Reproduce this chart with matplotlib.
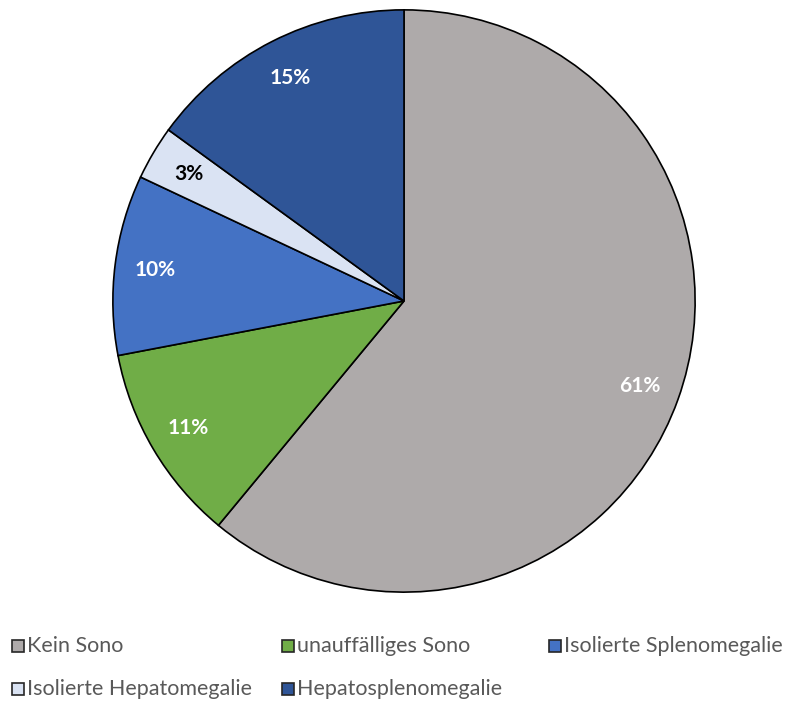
import matplotlib.pyplot as plt
from matplotlib.patches import Rectangle

labels = ['Kein Sono', 'unauffälliges Sono', 'Isolierte Splenomegalie',
          'Isolierte Hepatomegalie', 'Hepatosplenomegalie']
shares = [61, 11, 10, 3, 15]
colors = ['#AEAAAA', '#70AD47', '#4472C4', '#DAE3F3', '#2F5597']
pct_colors = ['white', 'white', 'white', 'black', 'white']

W, H = 795, 702
fig = plt.figure(figsize=(W / 100, H / 100), dpi=100)

# pie centre (404, 301) px, radius 292 px
cx, cy, r = 404, 301, 292
ax = fig.add_axes([(cx - r) / W, (H - cy - r) / H, 2 * r / W, 2 * r / H])
wedges, texts, autotexts = ax.pie(
    shares, colors=colors, startangle=90, counterclock=False,
    autopct='%d%%', pctdistance=0.86, radius=1,
    wedgeprops=dict(edgecolor='black', linewidth=1.2))
for t, c in zip(autotexts, pct_colors):
    t.set_color(c)
    t.set_fontweight('bold')
    t.set_fontsize(15)
    t.set_family(['Lato', 'DejaVu Sans'])
ax.set_xlim(-1.003, 1.003)
ax.set_ylim(-1.003, 1.003)
ax.axis('off')

# legend laid out as a 3-column grid, two rows
key_pos = [(18, 646), (288, 646), (555, 646), (18, 689), (288, 689)]
for (x, y), lab, col in zip(key_pos, labels, colors):
    fig.patches.append(Rectangle(((x - 6) / W, (H - y - 6) / H), 12 / W, 12 / H,
                                 transform=fig.transFigure, facecolor=col,
                                 edgecolor='#262626', linewidth=1.2))
    fig.text((x + 9) / W, (H - y) / H, lab, fontsize=15.5, color='#595959',
             va='center', ha='left', family=['Lato', 'DejaVu Sans'])

fig.savefig('out.png', dpi=100)
